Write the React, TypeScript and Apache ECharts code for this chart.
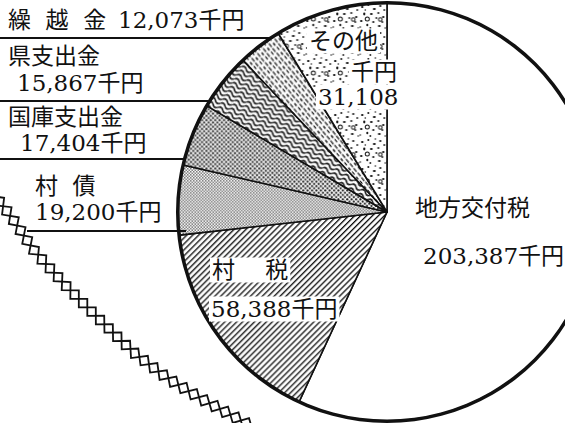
import React, { useEffect, useRef } from "react";
import * as echarts from "echarts";

// ---- data ----
const categories = ["地方交付税", "村税", "村債", "国庫支出金", "県支出金", "繰越金", "その他"];
const displayNames = ["地方交付税", "村\u3000\u00A0税", "村\u00A0\u00A0債", "国庫支出金", "県支出金", "繰\u00A0\u00A0越\u00A0\u00A0金", "その他"];
const values = [203387, 58388, 19200, 17404, 15867, 12073, 31108];
const unit = "千円";

const fmt = (v: number) => v.toLocaleString("en-US");

const FONT = "'DejaVu Serif', 'Noto Sans CJK JP', serif";
const W = 565;
const H = 423;

// each fill is one page-sized image holding an SVG pattern (so it can be rotated)
function pattern(tw: number, th: number, body: string, deg = 0) {
  const svg =
    `<svg xmlns="http://www.w3.org/2000/svg" width="${W}" height="${H}" viewBox="0 0 ${W} ${H}">` +
    `<defs><pattern id="p" width="${tw}" height="${th}" patternUnits="userSpaceOnUse" patternTransform="rotate(${deg})">${body}</pattern></defs>` +
    `<rect width="${W}" height="${H}" fill="#fff"/><rect width="${W}" height="${H}" fill="url(#p)"/></svg>`;
  return {
    image: "data:image/svg+xml;charset=utf-8," + encodeURIComponent(svg),
    repeat: "no-repeat",
    imageWidth: W,
    imageHeight: H,
  } as any;
}

const patWhite = "#ffffff";
const patHatch = pattern(4.2, 4.2, `<rect x="0" y="0" width="4.2" height="1.25" fill="#000"/>`, -45);
const patFine = pattern(3, 3, `<rect x="0" y="0" width="1.5" height="1.5" fill="#777"/><rect x="1.5" y="1.5" width="1.5" height="1.5" fill="#777"/>`);
const patDots = pattern(4.4, 4.4, `<circle cx="1.1" cy="1.1" r="1.05" fill="#111"/><circle cx="3.3" cy="3.3" r="1.05" fill="#111"/>`);
const patWave = pattern(
  11,
  4.7,
  `<path d="M0,2.35 C1.8,0.3 3.7,0.3 5.5,2.35 C7.3,4.4 9.2,4.4 11,2.35" stroke="#000" stroke-width="1.45" fill="none"/>`,
  30
);
const patDash = pattern(
  12,
  7.5,
  `<path d="M0.8,1.8 L4.4,1.8 M6.8,2 L10.4,2 M3,5.6 L5.4,5.6 M8.4,5.3 L11.2,5.3" stroke="#000" stroke-width="1.3" stroke-linecap="round"/>`,
  50
);
const speck = [
  [3, 4, 1.3, 0.9], [9, 2, 1, 1], [15, 6, 1.5, 0.9], [21, 3, 1.1, 1.1], [5, 11, 1.1, 1.4],
  [12, 11, 1.4, 1], [19, 10, 1, 1], [24, 14, 1.2, 0.9], [2, 18, 1.3, 1], [8, 22, 1, 1.3],
  [14, 19, 1.1, 1.1], [20, 23, 1.4, 0.9], [25, 7, 0.9, 0.9], [17, 15, 0.9, 0.9], [11, 25, 0.9, 0.9],
  [6, 7, 0.8, 0.8], [23, 19, 0.9, 0.9], [16, 1, 0.8, 0.8], [1, 24, 0.8, 0.8], [26, 25, 0.8, 0.8],
];
const patSpeck = pattern(
  27,
  27,
  speck.map(([x, y, rx, ry]) => `<ellipse cx="${x}" cy="${y}" rx="${rx}" ry="${ry}" fill="#111"/>`).join("") +
    `<circle cx="8" cy="16" r="2" stroke="#111" stroke-width="1" fill="none"/><circle cx="21" cy="16.5" r="1.8" stroke="#111" stroke-width="1" fill="none"/>`
);
const fills = [patWhite, patHatch, patFine, patDots, patWave, patDash, patSpeck];

// decorative jagged border (bottom-left)
const zigPath = [[-8, 192], [10, 215], [35, 252], [67, 287], [100, 320], [133, 352], [167, 378], [200, 398], [258, 430]];
function zigzag(path: number[][], step: number, amp: number, phase: number) {
  const segs: { a: number[]; b: number[]; len: number }[] = [];
  let total = 0;
  for (let i = 0; i < path.length - 1; i++) {
    const a = path[i], b = path[i + 1];
    const len = Math.hypot(b[0] - a[0], b[1] - a[1]);
    segs.push({ a, b, len });
    total += len;
  }
  const pts: number[][] = [];
  let k = 0;
  for (let d = 0; d <= total; d += step, k++) {
    let acc = 0;
    for (const s of segs) {
      if (d <= acc + s.len || s === segs[segs.length - 1]) {
        const t = Math.min(1, (d - acc) / s.len);
        const x = s.a[0] + (s.b[0] - s.a[0]) * t;
        const y = s.a[1] + (s.b[1] - s.a[1]) * t;
        const ux = (s.b[0] - s.a[0]) / s.len, uy = (s.b[1] - s.a[1]) / s.len;
        const o = (k % 2 === 0 ? amp : -amp) * phase;
        pts.push([x - uy * o, y + ux * o]);
        break;
      }
      acc += s.len;
    }
  }
  return pts;
}

export default function App() {
  const ref = useRef<HTMLDivElement>(null);
  useEffect(() => {
    if (!ref.current) return;
    const chart = echarts.init(ref.current, undefined, { renderer: "svg" });
    const text = (t: string, x: number, y: number, extra: any = {}) => ({
      type: "text",
      x,
      y,
      z: 100,
      style: { text: t, fontSize: 23, fontFamily: FONT, fill: "#111", verticalAlign: "middle", align: "left", ...extra },
    });
    const line = (x1: number, y1: number, x2: number, y2: number) => ({
      type: "line",
      z: 50,
      shape: { x1, y1, x2, y2 },
      style: { stroke: "#111", lineWidth: 2 },
    });
    const white = { backgroundColor: "#fff", padding: [1, 2, 1, 2] };
    const v = (i: number) => fmt(values[i]) + unit;

    chart.setOption({
      animation: false,
      backgroundColor: "#fff",
      series: [
        {
          type: "pie",
          center: [387, 212],
          radius: 209,
          startAngle: 90,
          clockwise: true,
          silent: true,
          avoidLabelOverlap: false,
          label: { show: false },
          labelLine: { show: false },
          emphasis: { disabled: true },
          itemStyle: { borderColor: "#111", borderWidth: 1.6 },
          data: categories.map((name, i) => ({ name, value: values[i], itemStyle: { color: fills[i] } })),
        },
        {
          type: "pie",
          center: [387, 212],
          radius: [207.5, 211],
          silent: true,
          label: { show: false },
          labelLine: { show: false },
          emphasis: { disabled: true },
          itemStyle: { color: "#111" },
          data: [{ name: "outline", value: values.reduce((a, b) => a + b, 0) }],
        },
      ],
      graphic: [
        { type: "polyline", z: 10, shape: { points: zigzag(zigPath, 12, 6, 1) }, style: { stroke: "#111", lineWidth: 1.8, fill: null } },
        { type: "polyline", z: 10, shape: { points: zigzag(zigPath, 12, 6, -1) }, style: { stroke: "#111", lineWidth: 1.8, fill: null } },
        // 繰越金
        text(displayNames[5], 8, 20),
        text(v(5), 118, 20),
        line(0, 38, 271, 38),
        // 県支出金
        text(displayNames[4], 8, 56),
        text(v(4), 17, 83),
        line(0, 101, 211, 101),
        // 国庫支出金
        text(displayNames[3], 8, 117),
        text(v(3), 20, 143),
        line(0, 159, 186, 159),
        // 村債
        text(displayNames[2], 35, 186),
        text(v(2), 35, 212),
        line(27, 231, 186, 231),
        // 地方交付税
        text(displayNames[0], 415, 208),
        text(v(0), 423, 256),
        // 村税
        text(displayNames[1], 210, 270, white),
        text(v(1), 209, 309, white),
        // その他
        text(displayNames[6], 307, 41, white),
        text(unit, 349, 72, white),
        text(fmt(values[6]), 316, 97, white),
      ],
    });
    return () => chart.dispose();
  }, []);
  return (
    <div
      ref={ref}
      style={{ position: "fixed", left: 0, top: 0, width: W, height: H, background: "#fff" }}
    />
  );
}
